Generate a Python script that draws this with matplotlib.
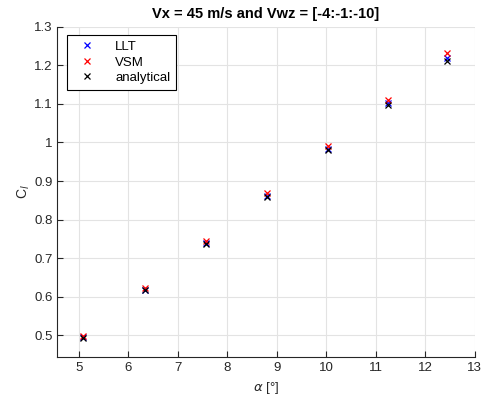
import numpy as np
import matplotlib
matplotlib.use("Agg")
import matplotlib.pyplot as plt

plt.rcParams['font.family'] = ['Liberation Sans', 'DejaVu Sans']

# angle of attack [deg]
alpha = [5.08, 6.33, 7.57, 8.81, 10.03, 11.24, 12.43]
cl_llt = [0.496, 0.619, 0.740, 0.861, 0.982, 1.101, 1.218]
cl_vsm = [0.498, 0.623, 0.744, 0.868, 0.991, 1.111, 1.231]
cl_analytical = [0.494, 0.617, 0.737, 0.859, 0.980, 1.098, 1.212]

fig = plt.figure(figsize=(4.82, 4.03), dpi=100)
ax = fig.add_axes([0.119, 0.113, 0.866, 0.821])

ax.plot(alpha, cl_llt, 'x', color='blue', markersize=4.5, mew=0.9, label='LLT')
ax.plot(alpha, cl_vsm, 'x', color='red', markersize=4.5, mew=0.9, label='VSM')
ax.plot(alpha, cl_analytical, 'x', color='black', markersize=4.5, mew=0.9, label='analytical')

ax.set_xlim(4.57, 13)
ax.set_ylim(0.443, 1.3)
ax.set_xticks(np.arange(5, 14, 1))
ax.set_yticks(np.arange(0.5, 1.31, 0.1))
ax.set_yticklabels(['0.5', '0.6', '0.7', '0.8', '0.9', '1', '1.1', '1.2', '1.3'])
ax.grid(True, color='#e3e3e3', linewidth=0.8)
ax.set_axisbelow(True)
for s in ['top', 'right']:
    ax.spines[s].set_visible(False)
for s in ['left', 'bottom']:
    ax.spines[s].set_color('#262626')
    ax.spines[s].set_linewidth(0.8)
ax.tick_params(direction='in', length=4, width=0.8, labelsize=9.5, colors='#262626')

ax.set_xlabel(r'$\alpha$ [°]', fontsize=9.5, color='#262626')
ax.set_ylabel(r'C$_l$', fontsize=10, color='#262626', labelpad=1)
ax.set_title('Vx = 45 m/s and Vwz = [-4:-1:-10]', fontsize=10.5, fontweight='bold')

leg = ax.legend(loc='upper left', bbox_to_anchor=(0.023, 0.975), fontsize=9.5,
                fancybox=False, framealpha=1, edgecolor='black',
                handlelength=2.2, handletextpad=1.0, borderpad=0.45,
                labelspacing=0.25, borderaxespad=0)
leg.get_frame().set_linewidth(0.8)

fig.savefig('out.png', dpi=100)
